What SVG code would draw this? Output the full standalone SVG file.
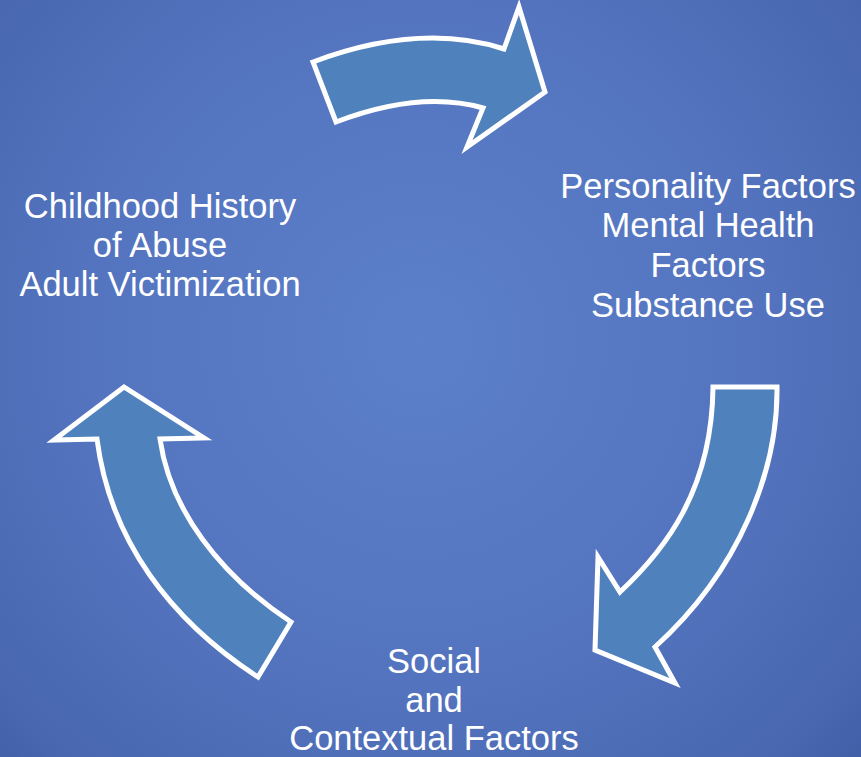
<svg xmlns="http://www.w3.org/2000/svg" width="861" height="757" viewBox="0 0 861 757">
  <defs>
    <radialGradient id="bg" gradientUnits="userSpaceOnUse" cx="420" cy="340" r="640">
      <stop offset="0" stop-color="#5d80cb"/>
      <stop offset="0.55" stop-color="#5373be"/>
      <stop offset="0.85" stop-color="#4867b0"/>
      <stop offset="1" stop-color="#3d5ba3"/>
    </radialGradient>
  </defs>
  <style>
    .arrow { fill: #4f81bd; stroke: #ffffff; stroke-width: 5; stroke-linejoin: miter; }
    .label { fill: #ffffff; font-family: "Liberation Sans", Arial, sans-serif; font-size: 34.5px; text-anchor: middle; }
  </style>

  <rect x="0" y="0" width="861" height="757" fill="url(#bg)"/>

  <!-- cycle arrows -->
  <g id="connectors">
    <path id="arrow-top" class="arrow"
          d="M313,62 Q420,22 504,49 L519,7 L545,92 L467,147 L483,108 Q420,90 336,122 Z"/>
    <path id="arrow-right" class="arrow"
          d="M713,387 L777,387 C778,470 740,570 655,647 L675,683 L595,650 L598,557 L620,592 C665,550 712,490 713,387 Z"/>
    <path id="arrow-left" class="arrow"
          d="M258,677 C170,620 110,540 97,439 L54,440 L124,387 L204,438 L160,439 C170,510 220,575 291,622 Z"/>
  </g>

  <!-- factor groups -->
  <g id="node-childhood">
    <text class="label" x="160" y="218">Childhood History</text>
    <text class="label" x="160" y="257">of Abuse</text>
    <text class="label" x="160" y="296">Adult Victimization</text>
  </g>

  <g id="node-personality">
    <text class="label" x="708" y="198">Personality Factors</text>
    <text class="label" x="708" y="237">Mental Health</text>
    <text class="label" x="708" y="277">Factors</text>
    <text class="label" x="708" y="317">Substance Use</text>
  </g>

  <g id="node-social">
    <text class="label" x="434" y="673">Social</text>
    <text class="label" x="434" y="712">and</text>
    <text class="label" x="434" y="750">Contextual Factors</text>
  </g>
</svg>
